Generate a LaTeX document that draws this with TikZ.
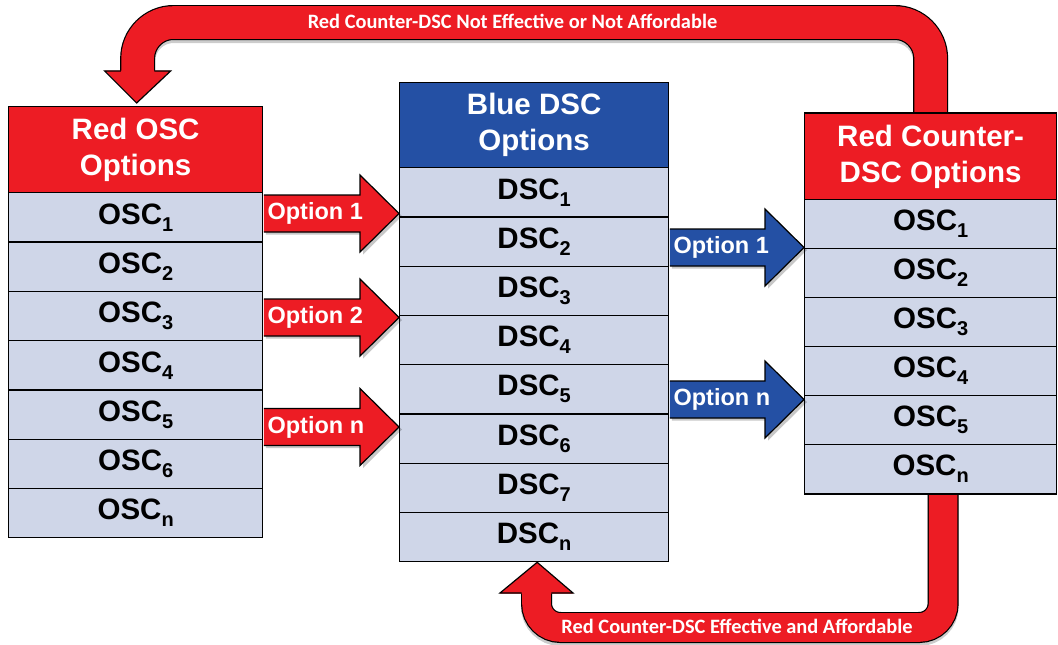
\documentclass[tikz,border=0pt]{standalone}
\usepackage{fontspec}
\setmainfont{Liberation Sans}
\newfontfamily\calib{Carlito}
\usetikzlibrary{calc}
\definecolor{rd}{HTML}{ED1C24}
\definecolor{bl}{HTML}{2450A4}
\definecolor{cellc}{HTML}{CFD6E8}
\newcommand\subidx[1]{\raisebox{-7pt}{\fontsize{20}{20}\selectfont #1}}
\tikzset{
  cellbox/.style={draw=black, line width=1.3pt, fill=cellc, minimum height=49.3pt,
    inner sep=0pt, anchor=north west, font=\fontsize{29.5}{30}\selectfont\bfseries},
  hdrbox/.style={draw=black, line width=1.3pt, text=white, align=center, inner sep=0pt,
    anchor=north west, font=\fontsize{29.5}{36}\selectfont\bfseries},
  optlbl/.style={text=white, anchor=west, inner sep=0pt, font=\fontsize{23.5}{24}\selectfont\bfseries},
  looplbl/.style={text=white, inner sep=0pt, font=\calib\fontsize{20.4}{21}\selectfont\bfseries},
  outl/.style={draw=black, line width=1.2pt, line join=miter},
}
\newcommand\blkarrow[3]{%
  \fill[black, opacity=0.22] ($(#1)+(2,-16)$) -- ($(#2)+(-36,-16)$) -- ($(#2)+(-36,-36)$)
    -- ($(#2)+(3,2.5)$) -- ($(#2)+(-36,41)$) -- ($(#2)+(-36,21)$) -- ($(#1)+(2,21)$) -- cycle;
  \fill[#3] ($(#1)+(0,-18.5)$) -- ($(#2)+(-39,-18.5)$) -- ($(#2)+(-39,-38.5)$)
    -- (#2) -- ($(#2)+(-39,38.5)$) -- ($(#2)+(-39,18.5)$) -- ($(#1)+(0,18.5)$) -- cycle;
  \draw[outl] ($(#1)+(0,-18.5)$) -- ($(#2)+(-39,-18.5)$) -- ($(#2)+(-39,-38.5)$)
    -- (#2) -- ($(#2)+(-39,38.5)$) -- ($(#2)+(-39,18.5)$) -- ($(#1)+(0,18.5)$);
}
\begin{document}
\begin{tikzpicture}[x=1pt,y=-1pt]
\useasboundingbox (0,0) rectangle (1058,645);
\fill[white] (0,0) rectangle (1058,645);

% ---------- boxes ----------
\node[hdrbox, fill=rd, minimum width=254pt, minimum height=86pt] (lh) at (8,106) {Red OSC\\Options};
\foreach \t [count=\i] in {1,2,3,4,5,6,n}
  \node[cellbox, minimum width=254pt] (l\i) at (8,{192+(\i-1)*49.3}) {OSC\subidx{\t}};

\node[hdrbox, fill=bl, minimum width=269pt, minimum height=85pt] (mh) at (399,82) {Blue DSC\\Options};
\foreach \t [count=\i] in {1,2,3,4,5,6,7,n}
  \node[cellbox, minimum width=269pt, minimum height=49.25pt] (m\i) at (399,{167+(\i-1)*49.25}) {DSC\subidx{\t}};

\node[hdrbox, fill=rd, minimum width=252pt, minimum height=86pt] (rh) at (804,113) {Red Counter-\\DSC Options};
\foreach \t [count=\i] in {1,2,3,4,5,n}
  \node[cellbox, minimum width=252pt, minimum height=49pt] (r\i) at (804,{199+(\i-1)*49}) {OSC\subidx{\t}};

% ---------- top loop ----------
\coordinate (tA) at (rh.north);
\coordinate (tB) at ($(lh.north)+(2,-35)$);
\begin{scope}[shift={(3,3)}, opacity=0.2]
  \draw[line width=35pt, rounded corners=36pt] (tA) -- (tA |- 0,22.5) -- (tB |- 0,22.5) -- (tB);
\end{scope}
\draw[line width=35pt, black, rounded corners=36pt] (tA) -- (tA |- 0,22.5) -- (tB |- 0,22.5) -- (tB);
\draw[line width=32.6pt, rd, rounded corners=36pt] (tA) -- (tA |- 0,22.5) -- (tB |- 0,22.5) -- (tB);
\coordinate (tTip) at ($(lh.north)+(1,-3)$);
\fill[rd] ($(tB)+(-33,-0.5)$) -- ($(tB)+(33,-0.5)$) -- (tTip) -- cycle;
\draw[outl] ($(tB)+(-16.8,0)$) -- ($(tB)+(-33,0)$) -- (tTip) -- ($(tB)+(33,0)$) -- ($(tB)+(16.8,0)$);
\node[looplbl] (toplbl) at (512.5,21) {Red Counter-DSC Not Effective or Not Affordable};

% ---------- bottom loop ----------
\coordinate (bA) at ($(r6.south)+(12.5,0)$);
\coordinate (bB) at (536.5,593);
\begin{scope}[shift={(3,3)}, opacity=0.2]
  \draw[line width=31pt, rounded corners=24pt] (bA) -- (bA |- 0,627.5) -- (bB |- 0,627.5) -- (bB);
\end{scope}
\draw[line width=31pt, black, rounded corners=24pt] (bA) -- (bA |- 0,627.5) -- (bB |- 0,627.5) -- (bB);
\draw[line width=28.6pt, rd, rounded corners=24pt] (bA) -- (bA |- 0,627.5) -- (bB |- 0,627.5) -- (bB);
\coordinate (bTip) at ($(m8.south)+(3,0)$);
\fill[rd] ($(bB)+(-36.5,0.5)$) -- ($(bB)+(36.5,0.5)$) -- (bTip) -- cycle;
\draw[outl] ($(bB)+(-14.8,0)$) -- ($(bB)+(-36.5,0)$) -- (bTip) -- ($(bB)+(36.5,0)$) -- ($(bB)+(14.8,0)$);
\node[looplbl] (botlbl) at (737,626) {Red Counter-DSC Effective and Affordable};

% redraw box borders on top of loop ends
\draw[line width=1.3pt] (rh.north west) -- (rh.north east);
\draw[line width=1.3pt] (r6.south west) -- (r6.south east);

% ---------- block arrows ----------
\coordinate (a1s) at ($(lh.east |- 0,213.5)+(0.6,0)$);
\coordinate (a1e) at (m1.west |- 0,213.5);
\coordinate (a2s) at ($(lh.east |- 0,317.5)+(0.6,0)$);
\coordinate (a2e) at (m3.west |- 0,317.5);
\coordinate (a3s) at ($(lh.east |- 0,427)+(0.6,0)$);
\coordinate (a3e) at (m5.west |- 0,427);
\blkarrow{a1s}{a1e}{rd}
\blkarrow{a2s}{a2e}{rd}
\blkarrow{a3s}{a3e}{rd}
\node[optlbl] (o1) at ($(a1s)+(3.5,0)$) {Option 1};
\node[optlbl] (o2) at ($(a2s)+(3.5,0)$) {Option 2};
\node[optlbl] (o3) at ($(a3s)+(3.5,0)$) {Option n};

\coordinate (b1s) at ($(mh.east |- 0,247.5)+(0.6,0)$);
\coordinate (b1e) at (r1.west |- 0,247.5);
\coordinate (b2s) at ($(mh.east |- 0,399.5)+(0.6,0)$);
\coordinate (b2e) at (r4.west |- 0,399.5);
\blkarrow{b1s}{b1e}{bl}
\blkarrow{b2s}{b2e}{bl}
\node[optlbl] (p1) at ($(b1s)+(3.5,0)$) {Option 1};
\node[optlbl] (p2) at ($(b2s)+(3.5,0)$) {Option n};
\end{tikzpicture}
\end{document}
